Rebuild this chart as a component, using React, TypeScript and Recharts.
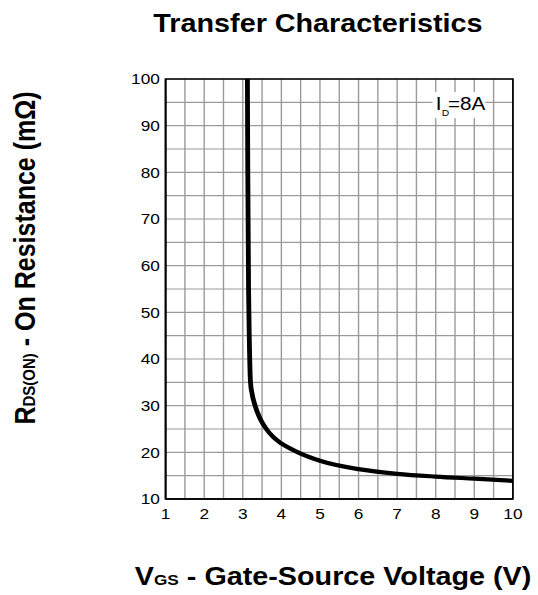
import React from "react"
import { CartesianGrid, Line, LineChart, ReferenceArea, ReferenceDot, XAxis, YAxis } from "recharts"

// Gate-source voltage (V) and on-resistance (mΩ), I_D = 8A
const vgs = [3.12, 3.13, 3.15, 3.17, 3.2, 3.24, 3.32, 3.45, 3.61, 3.8, 4.0, 4.43, 5.0, 6.0, 7.0, 8.0, 9.0, 10.0]
const rdsOn = [100, 80, 55, 44, 35, 32.6, 30, 27.2, 25, 23.2, 21.9, 20, 18.2, 16.4, 15.4, 14.8, 14.35, 13.9]

const xTicks = [1, 1.5, 2, 2.5, 3, 3.5, 4, 4.5, 5, 5.5, 6, 6.5, 7, 7.5, 8, 8.5, 9, 9.5, 10]
const yTicks = [10, 15, 20, 25, 30, 35, 40, 45, 50, 55, 60, 65, 70, 75, 80, 85, 90, 95, 100]

const data = vgs.map((v, i) => ({ vgs: v, rds: rdsOn[i] }))

const FONT = "'Liberation Sans', Arial, Helvetica, sans-serif"
// the reference is drawn slightly wide, so the whole chart is stretched horizontally
const STRETCH = 1.15
const WIDTH = 468
const HEIGHT = 595

function IdLabel(props: any) {
  const { viewBox } = props
  const cx = viewBox.x + viewBox.width / 2
  const cy = viewBox.y + viewBox.height / 2
  return (
    <g>
      <rect x={cx - 23} y={cy - 13} width={46} height={26} fill="#fff" />
      <text x={cx - 20} y={cy + 4.5} fontFamily={FONT} fontSize={18} fill="#000">
        I
        <tspan fontSize={9} dy={6}>D</tspan>
        <tspan dy={-6} dx={-1}>=8A</tspan>
      </text>
    </g>
  )
}

export default function App() {
  return (
    <div
      style={{
        position: "fixed",
        top: 0,
        left: 0,
        width: WIDTH,
        height: HEIGHT,
        background: "#fff",
        transform: `scaleX(${STRETCH})`,
        transformOrigin: "0 0",
      }}
    >
      <LineChart
        width={WIDTH}
        height={HEIGHT}
        data={data}
        margin={{ top: 79, right: 22, bottom: 66, left: 100 }}
      >
        <CartesianGrid stroke="#9a9a9a" strokeWidth={1.2} />
        <XAxis
          type="number"
          dataKey="vgs"
          domain={[1, 10]}
          ticks={xTicks}
          interval={0}
          height={30}
          tickLine={false}
          tickSize={0}
          tickMargin={9}
          axisLine={{ stroke: "#000", strokeWidth: 1.5 }}
          tick={{ fill: "#000", fontSize: 15, fontFamily: FONT }}
          tickFormatter={(v) => (Number.isInteger(v) ? String(v) : "")}
        />
        <YAxis
          type="number"
          domain={[10, 100]}
          ticks={yTicks}
          interval={0}
          width={44}
          tickLine={false}
          tickSize={0}
          tickMargin={5}
          axisLine={{ stroke: "#000", strokeWidth: 1.5 }}
          tick={{ fill: "#000", fontSize: 15, fontFamily: FONT }}
          tickFormatter={(v) => (v % 10 === 0 ? String(v) : "")}
        />
        <ReferenceArea x1={1} x2={10} y1={10} y2={100} fill="none" stroke="#000" strokeWidth={1.5} />
        <Line
          type="monotone"
          dataKey="rds"
          stroke="#000"
          strokeWidth={4.2}
          dot={false}
          activeDot={false}
          isAnimationActive={false}
        />
        <ReferenceDot x={8.6} y={94.4} r={1} fill="none" stroke="none" label={<IdLabel />} />
      </LineChart>
      <svg
        width={WIDTH}
        height={HEIGHT}
        style={{ position: "absolute", top: 0, left: 0, pointerEvents: "none" }}
      >
        <text x={276.5} y={32} textAnchor="middle" fontFamily={FONT} fontWeight="bold" fontSize={25}>
          Transfer Characteristics
        </text>
        <text x={289.6} y={585} textAnchor="middle" fontFamily={FONT} fontWeight="bold" fontSize={25}>
          V<tspan fontSize={15}>GS</tspan> - Gate-Source Voltage (V)
        </text>
        <text
          x={30.4}
          y={258}
          textAnchor="middle"
          fontFamily={FONT}
          fontWeight="bold"
          fontSize={25}
          transform="rotate(-90 30.4 258)"
        >
          R<tspan fontSize={15}>DS(ON)</tspan> - On Resistance (mΩ)
        </text>
      </svg>
    </div>
  )
}
